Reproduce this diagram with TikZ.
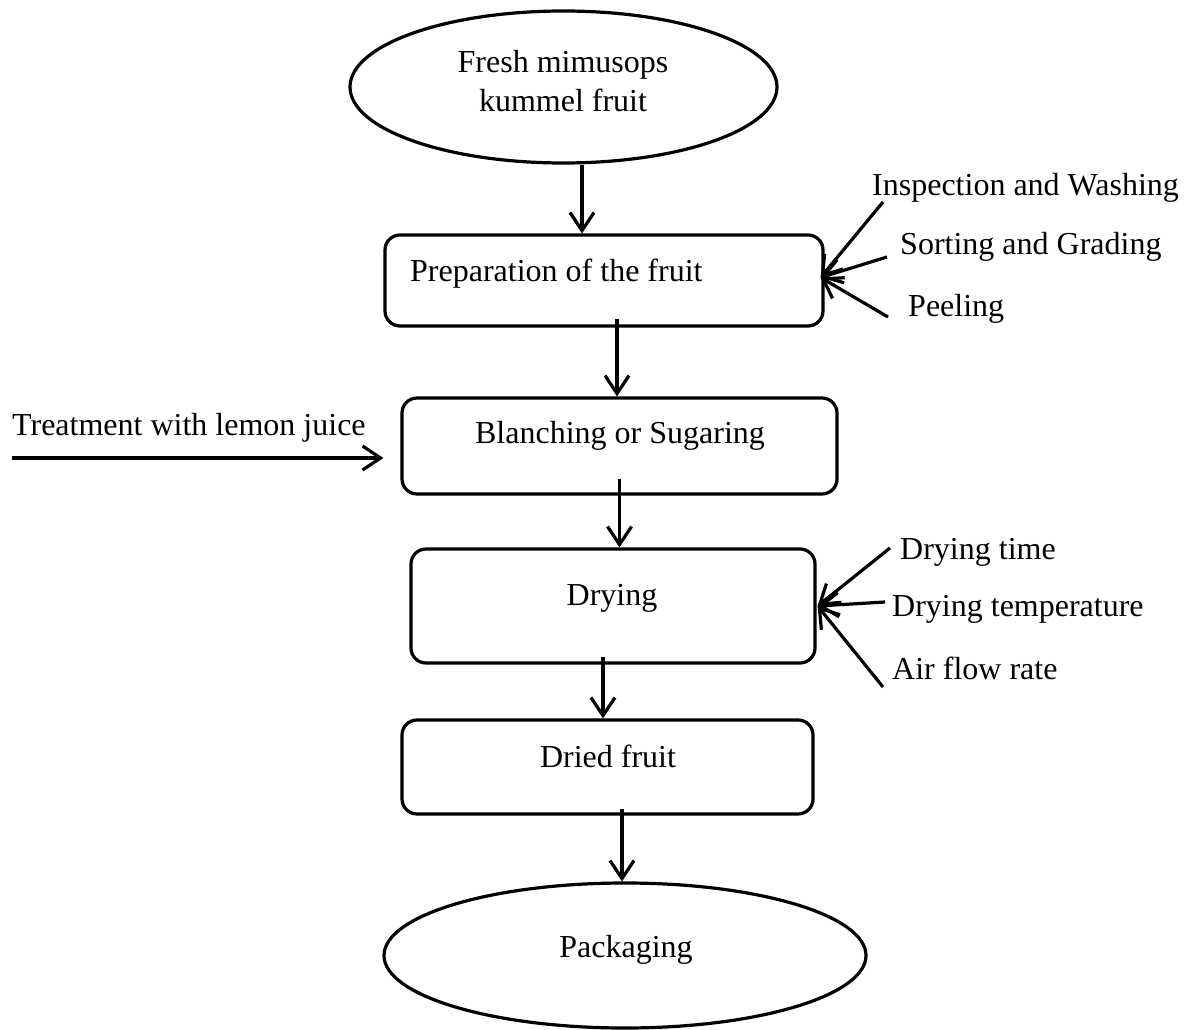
\documentclass[tikz,border=0pt]{standalone}
\usepackage{fontspec}
\setmainfont{Liberation Serif}
\usetikzlibrary{arrows.meta,shapes.geometric}
\begin{document}
\begin{tikzpicture}[x=1pt,y=-1pt,
  every node/.style={font=\fontsize{32}{39}\selectfont},
  shapeline/.style={draw, line width=3.2pt},
  procbox/.style={shapeline, rectangle, rounded corners=15pt, inner sep=0pt},
  oval/.style={shapeline, ellipse, inner sep=0pt},
  arr/.style={line width=3.2pt, -{Straight Barb[length=18pt,width=24pt,line width=3.2pt]}},
  lbl/.style={inner sep=0pt}
]
\useasboundingbox (0,0) rectangle (1189,1030);

% shapes
\node[oval, minimum width=427pt, minimum height=152pt] (e1) at (563.5,87) {};
\node[procbox, minimum width=438pt, minimum height=91pt] (b1) at (604,280.5) {};
\node[procbox, minimum width=435pt, minimum height=96pt] (b2) at (619.5,446) {};
\node[procbox, minimum width=404pt, minimum height=114pt] (b3) at (613,606) {};
\node[procbox, minimum width=411pt, minimum height=94pt] (b4) at (607.5,767) {};
\node[oval, minimum width=482pt, minimum height=145pt] (e2) at (625,955.5) {};

% texts inside shapes
\node[lbl, anchor=base] (t1a) at (563,73) {Fresh mimusops};
\node[lbl, anchor=base] (t1b) at (563,112) {kummel fruit};
\node[lbl, anchor=base west] (t2) at (410,281) {Preparation of the fruit};
\node[lbl, anchor=base] (t3) at (620,443) {Blanching or Sugaring};
\node[lbl, anchor=base] (t4) at (612,605) {Drying};
\node[lbl, anchor=base] (t5) at (608,767) {Dried fruit};
\node[lbl, anchor=base] (t6) at (626,957) {Packaging};

% side labels
\node[lbl, anchor=base west] (s1) at (872,196) {Inspection and Washing};
\node[lbl, anchor=base west] (s2) at (900,254) {Sorting and Grading};
\node[lbl, anchor=base west] (s3) at (908,316) {Peeling};
\node[lbl, anchor=base west] (l1) at (12,435) {Treatment with lemon juice};
\node[lbl, anchor=base west] (d1) at (900,559) {Drying time};
\node[lbl, anchor=base west] (d2) at (892,616) {Drying temperature};
\node[lbl, anchor=base west] (d3) at (892,679) {Air flow rate};

% free ends
\coordinate (s1e) at (883,202);
\coordinate (s2e) at (887,257);
\coordinate (s3e) at (888,317);
\coordinate (l1e) at (12,458);
\coordinate (d1e) at (890,548);
\coordinate (d2e) at (885,602);
\coordinate (d3e) at (883,687);

% main flow
\draw[arr] ([xshift=18.5pt]e1.south) -- ([xshift=18.5pt]e1.south |- b1.north);
\draw[arr] ([xshift=13pt,yshift=9pt]b1.south) -- ([xshift=13pt]b1.south |- b2.north);
\draw[arr] ([yshift=17pt]b2.south) -- (b2.south |- b3.north);
\draw[arr] ([xshift=-10pt,yshift=8pt]b3.south) -- ([xshift=-10pt]b3.south |- b4.north);
\draw[arr] ([xshift=14.5pt,yshift=7pt]b4.south) -- ([xshift=14.5pt]b4.south |- e2.north);

% side inputs
\draw[arr] (s1e) -- ([xshift=-4pt,yshift=3pt]b1.east);
\draw[arr] (s2e) -- ([xshift=-4pt,yshift=3pt]b1.east);
\draw[arr] (s3e) -- ([xshift=-4pt,yshift=3pt]b1.east);
\draw[arr] (l1e) -- ([xshift=-17pt,yshift=-12pt]b2.west);
\draw[arr] (d1e) -- ([xshift=1pt]b3.east);
\draw[arr] (d2e) -- ([xshift=1pt]b3.east);
\draw[arr] (d3e) -- ([xshift=1pt]b3.east);
\end{tikzpicture}
\end{document}
